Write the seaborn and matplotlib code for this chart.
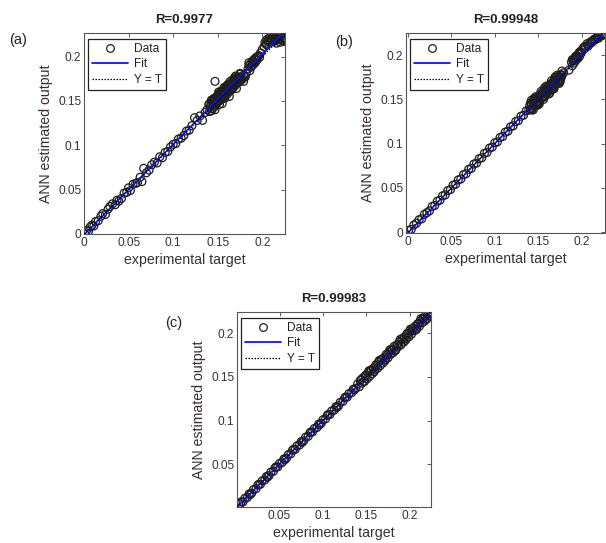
import numpy as np
import pandas as pd
import matplotlib
matplotlib.use("Agg")
import matplotlib.pyplot as plt
import seaborn as sns
from matplotlib.lines import Line2D

# ---------------- data ----------------
titles = ["R=0.9977", "R=0.99948", "R=0.99983"]
panel_labels = ["(a)", "(b)", "(c)"]
x_label = "experimental target"
y_label = "ANN estimated output"
legend_labels = ["Data", "Fit", "Y = T"]

a_target = [
    0.001, 0.003, 0.005, 0.007, 0.009, 0.011, 0.013, 0.016, 0.019, 0.021,
    0.024, 0.027, 0.029, 0.032, 0.035, 0.037, 0.039, 0.042, 0.045, 0.048,
    0.050, 0.052, 0.055, 0.058, 0.060, 0.063, 0.065, 0.067, 0.070, 0.073,
    0.076, 0.079, 0.082, 0.085, 0.088, 0.091, 0.094, 0.097, 0.100, 0.103,
    0.106, 0.109, 0.112, 0.115, 0.118, 0.121, 0.124, 0.127, 0.130, 0.133,
    0.136,
    0.138, 0.140, 0.141, 0.142, 0.143, 0.144, 0.145, 0.145, 0.146, 0.147,
    0.147, 0.148, 0.149, 0.150, 0.150, 0.151, 0.152, 0.153, 0.153, 0.154,
    0.155, 0.156, 0.156, 0.157, 0.158, 0.159, 0.160, 0.160, 0.161, 0.162,
    0.163, 0.163, 0.164, 0.165, 0.166, 0.166, 0.167, 0.168, 0.169, 0.170,
    0.170, 0.171, 0.172, 0.173, 0.174, 0.175, 0.176, 0.178, 0.180, 0.182,
    0.141, 0.143, 0.144, 0.146, 0.148, 0.149, 0.151, 0.152, 0.154, 0.155,
    0.157, 0.158, 0.159, 0.161, 0.162, 0.164, 0.165, 0.167, 0.168, 0.169,
    0.171, 0.172, 0.174, 0.175, 0.177, 0.179, 0.181, 0.150, 0.155, 0.160,
    0.165, 0.170, 0.175, 0.158, 0.163, 0.168,
    0.143, 0.147, 0.151, 0.155, 0.159, 0.163, 0.167, 0.171, 0.175, 0.179,
    0.146, 0.154, 0.162, 0.170,
    0.184, 0.185, 0.186, 0.187, 0.188, 0.189, 0.190, 0.191, 0.192, 0.193,
    0.194, 0.196, 0.185, 0.187, 0.189, 0.191, 0.193, 0.195, 0.197,
    0.198, 0.200, 0.202, 0.204, 0.205, 0.206, 0.208, 0.209, 0.210, 0.212,
    0.213, 0.214, 0.216, 0.217, 0.218, 0.220, 0.222, 0.224, 0.225, 0.226,
    0.203, 0.207, 0.211, 0.215, 0.219, 0.221, 0.223, 0.205, 0.213,
]
a_output = [
    0.000, 0.004, 0.003, 0.008, 0.010, 0.009, 0.014, 0.015, 0.020, 0.023,
    0.022, 0.028, 0.031, 0.034, 0.033, 0.038, 0.037, 0.040, 0.046, 0.047,
    0.052, 0.049, 0.056, 0.057, 0.058, 0.064, 0.059, 0.074, 0.069, 0.072,
    0.078, 0.081, 0.080, 0.087, 0.086, 0.092, 0.093, 0.098, 0.101, 0.102,
    0.107, 0.108, 0.111, 0.116, 0.117, 0.122, 0.131, 0.128, 0.133, 0.128,
    0.137,
    0.140, 0.146, 0.138, 0.144, 0.148, 0.141, 0.150, 0.145, 0.147, 0.172,
    0.152, 0.146, 0.155, 0.149, 0.153, 0.157, 0.150, 0.158, 0.154, 0.152,
    0.160, 0.157, 0.153, 0.162, 0.156, 0.163, 0.160, 0.166, 0.158, 0.164,
    0.167, 0.161, 0.168, 0.163, 0.170, 0.166, 0.164, 0.171, 0.167, 0.173,
    0.168, 0.175, 0.170, 0.176, 0.172, 0.177, 0.174, 0.176, 0.178, 0.181,
    0.147, 0.139, 0.151, 0.143, 0.153, 0.148, 0.160, 0.146, 0.158, 0.154,
    0.165, 0.153, 0.161, 0.168, 0.160, 0.172, 0.162, 0.170, 0.166, 0.176,
    0.171, 0.177, 0.175, 0.180, 0.174, 0.179, 0.177, 0.156, 0.161, 0.162,
    0.168, 0.170, 0.172, 0.159, 0.165, 0.173,
    0.151, 0.140, 0.158, 0.147, 0.166, 0.155, 0.174, 0.164, 0.181, 0.172,
    0.153, 0.161, 0.169, 0.178,
    0.186, 0.190, 0.184, 0.192, 0.189, 0.195, 0.191, 0.197, 0.193, 0.199,
    0.196, 0.201, 0.193, 0.188, 0.193, 0.194, 0.196, 0.200, 0.199,
    0.204, 0.208, 0.211, 0.214, 0.219, 0.217, 0.221, 0.216, 0.219, 0.222,
    0.217, 0.220, 0.215, 0.219, 0.221, 0.216, 0.219, 0.217, 0.220, 0.218,
    0.216, 0.219, 0.220, 0.218, 0.219, 0.222, 0.221, 0.213, 0.221,
]

b_target = [
    0.001, 0.004, 0.007, 0.010, 0.013, 0.016, 0.019, 0.022, 0.025, 0.028,
    0.031, 0.034, 0.037, 0.040, 0.043, 0.046, 0.049, 0.052, 0.055, 0.058,
    0.061, 0.064, 0.067, 0.070, 0.073, 0.076, 0.079, 0.082, 0.085, 0.088,
    0.091, 0.094, 0.097, 0.100, 0.103, 0.106, 0.109, 0.112, 0.115, 0.118,
    0.121, 0.124, 0.127, 0.130, 0.133, 0.136, 0.139,
    0.140, 0.141, 0.142, 0.143, 0.144, 0.145, 0.146, 0.147, 0.148, 0.149,
    0.150, 0.151, 0.152, 0.153, 0.154, 0.155, 0.156, 0.157, 0.158, 0.159,
    0.160, 0.161, 0.162, 0.163, 0.164, 0.165, 0.166, 0.167, 0.168, 0.169,
    0.170, 0.171, 0.172, 0.173, 0.174, 0.175, 0.176, 0.177,
    0.142, 0.145, 0.148, 0.151, 0.154, 0.157, 0.160, 0.163, 0.166, 0.169,
    0.172, 0.175,
    0.141, 0.143, 0.146, 0.149, 0.152, 0.155, 0.158, 0.161, 0.164, 0.167,
    0.170, 0.173, 0.176, 0.150, 0.156, 0.162, 0.168, 0.174,
    0.142, 0.144, 0.147, 0.150, 0.153, 0.156, 0.159, 0.162, 0.165, 0.168,
    0.171, 0.174, 0.177, 0.145, 0.151, 0.157, 0.163, 0.169, 0.175,
    0.179, 0.185,
    0.188, 0.189, 0.190, 0.191, 0.192, 0.193, 0.194, 0.195, 0.196, 0.197,
    0.189, 0.191, 0.193, 0.195, 0.197, 0.199,
    0.198, 0.200, 0.202, 0.204, 0.206, 0.208, 0.210, 0.212, 0.214, 0.216,
    0.218, 0.220, 0.222, 0.224, 0.226,
    0.199, 0.203, 0.207, 0.211, 0.215, 0.219, 0.223,
]
b_output = [
    0.002, 0.003, 0.008, 0.010, 0.014, 0.015, 0.020, 0.022, 0.024, 0.029,
    0.030, 0.035, 0.036, 0.041, 0.042, 0.047, 0.048, 0.053, 0.054, 0.059,
    0.060, 0.065, 0.066, 0.071, 0.072, 0.077, 0.078, 0.083, 0.084, 0.089,
    0.090, 0.095, 0.096, 0.101, 0.102, 0.107, 0.108, 0.113, 0.114, 0.119,
    0.120, 0.125, 0.126, 0.131, 0.132, 0.137, 0.138,
    0.143, 0.139, 0.145, 0.141, 0.147, 0.143, 0.149, 0.146, 0.145, 0.152,
    0.148, 0.154, 0.150, 0.156, 0.152, 0.158, 0.154, 0.160, 0.157, 0.156,
    0.163, 0.159, 0.165, 0.161, 0.167, 0.163, 0.169, 0.166, 0.165, 0.172,
    0.168, 0.174, 0.170, 0.176, 0.172, 0.178, 0.174, 0.177,
    0.138, 0.148, 0.143, 0.147, 0.157, 0.153, 0.157, 0.166, 0.162, 0.166,
    0.175, 0.172,
    0.146, 0.139, 0.150, 0.146, 0.155, 0.152, 0.161, 0.158, 0.166, 0.162,
    0.173, 0.169, 0.178, 0.147, 0.159, 0.160, 0.171, 0.176,
    0.149, 0.138, 0.153, 0.144, 0.159, 0.150, 0.165, 0.156, 0.171, 0.162,
    0.177, 0.168, 0.182, 0.151, 0.145, 0.163, 0.157, 0.175, 0.170,
    0.180, 0.183,
    0.192, 0.188, 0.195, 0.191, 0.197, 0.194, 0.199, 0.196, 0.201, 0.198,
    0.195, 0.194, 0.199, 0.198, 0.203, 0.203,
    0.204, 0.206, 0.209, 0.210, 0.213, 0.212, 0.215, 0.216, 0.218, 0.219,
    0.220, 0.221, 0.222, 0.223, 0.224,
    0.202, 0.207, 0.210, 0.214, 0.217, 0.219, 0.222,
]

c_target = [
    0.003, 0.005, 0.008, 0.010, 0.013, 0.015, 0.018, 0.020, 0.023, 0.025,
    0.028, 0.030, 0.033, 0.035, 0.038, 0.040, 0.043, 0.045, 0.048, 0.050,
    0.053, 0.055, 0.058, 0.060, 0.063, 0.065, 0.068, 0.070, 0.073, 0.075,
    0.078, 0.080, 0.083, 0.085, 0.088, 0.090, 0.093, 0.095, 0.098, 0.100,
    0.103, 0.105, 0.108, 0.110, 0.113, 0.115, 0.118, 0.120, 0.123, 0.125,
    0.128, 0.130, 0.133, 0.135, 0.138,
    0.006, 0.016, 0.026, 0.036, 0.046, 0.056, 0.066, 0.076, 0.086, 0.096,
    0.106, 0.116, 0.126, 0.136,
    0.140, 0.142, 0.143, 0.145, 0.146, 0.148, 0.149, 0.151, 0.152, 0.154,
    0.155, 0.157, 0.158, 0.160, 0.161, 0.163, 0.164, 0.166, 0.167, 0.169,
    0.170, 0.172, 0.173, 0.175, 0.176, 0.178, 0.179, 0.181, 0.182, 0.184,
    0.185, 0.187, 0.188, 0.190, 0.191, 0.193, 0.194, 0.196, 0.197, 0.199,
    0.200, 0.202, 0.203, 0.205, 0.206, 0.208, 0.209, 0.211, 0.212, 0.214,
    0.215, 0.217, 0.218, 0.220, 0.221, 0.223, 0.224, 0.225,
    0.144, 0.150, 0.156, 0.162, 0.168, 0.174, 0.180, 0.186, 0.192, 0.198,
    0.204, 0.210, 0.216, 0.222,
    0.147, 0.153, 0.159, 0.165, 0.171, 0.177, 0.183, 0.189, 0.195, 0.201,
    0.207, 0.213, 0.219,
]
c_output = [
    0.004, 0.005, 0.007, 0.011, 0.012, 0.016, 0.017, 0.021, 0.022, 0.026,
    0.027, 0.031, 0.032, 0.036, 0.037, 0.041, 0.042, 0.046, 0.047, 0.051,
    0.052, 0.056, 0.057, 0.061, 0.062, 0.066, 0.067, 0.071, 0.072, 0.076,
    0.077, 0.081, 0.082, 0.086, 0.087, 0.091, 0.092, 0.096, 0.097, 0.101,
    0.102, 0.106, 0.107, 0.111, 0.112, 0.116, 0.117, 0.121, 0.122, 0.126,
    0.127, 0.131, 0.132, 0.136, 0.137,
    0.007, 0.015, 0.027, 0.035, 0.047, 0.055, 0.067, 0.075, 0.087, 0.095,
    0.107, 0.115, 0.127, 0.135,
    0.142, 0.139, 0.146, 0.143, 0.149, 0.145, 0.152, 0.148, 0.155, 0.151,
    0.158, 0.154, 0.160, 0.158, 0.164, 0.160, 0.167, 0.163, 0.170, 0.166,
    0.172, 0.170, 0.176, 0.172, 0.178, 0.176, 0.182, 0.178, 0.185, 0.181,
    0.187, 0.185, 0.190, 0.187, 0.194, 0.190, 0.196, 0.194, 0.200, 0.196,
    0.203, 0.199, 0.205, 0.203, 0.208, 0.205, 0.211, 0.208, 0.214, 0.212,
    0.217, 0.214, 0.220, 0.217, 0.222, 0.220, 0.225, 0.224,
    0.147, 0.151, 0.158, 0.163, 0.170, 0.175, 0.181, 0.187, 0.193, 0.199,
    0.205, 0.211, 0.217, 0.223,
    0.145, 0.157, 0.156, 0.169, 0.168, 0.181, 0.180, 0.193, 0.192, 0.205,
    0.204, 0.217, 0.216,
]

x_ticks_ab = [0, 0.05, 0.1, 0.15, 0.2]
x_tick_labels_ab = ["0", "0.05", "0.1", "0.15", "0.2"]
x_ticks_c = [0.05, 0.1, 0.15, 0.2]
x_tick_labels_c = ["0.05", "0.1", "0.15", "0.2"]

# ---------------- style ----------------
sns.set_theme(style="white")
plt.rcParams["font.family"] = ["Liberation Sans", "DejaVu Sans"]

fig = plt.figure(figsize=(6.06, 5.43), dpi=100)
W, H = 606, 543

def px_axes(x0, y0, x1, y1):
    return fig.add_axes([x0 / W, 1 - y1 / H, (x1 - x0) / W, (y1 - y0) / H])

axes = [
    px_axes(84, 33, 285, 234),
    px_axes(406, 33, 605, 233),
    px_axes(237, 312, 431, 507),
]
limits = [
    ((0.0, 0.2255), (0.0, 0.2265)),
    ((-0.002, 0.2265), (-0.001, 0.225)),
    ((0.001, 0.2245), (0.001, 0.2245)),
]
datasets = [(a_target, a_output), (b_target, b_output), (c_target, c_output)]
label_pos = [(9, 40), (335, 42), (165, 323)]

tick_col = "#333333"
for i, ax in enumerate(axes):
    t, o = datasets[i]
    df = pd.DataFrame({"target": t, "output": o})
    (xl, yl) = limits[i]
    ax.set_xlim(*xl)
    ax.set_ylim(*yl)
    sns.scatterplot(data=df, x="target", y="output", ax=ax, marker="o",
                    s=32, facecolors="none", edgecolor="#1e1e1e",
                    linewidth=0.9, zorder=2)
    slope, inter = np.polyfit(df["target"], df["output"], 1)
    xs = np.array(xl)
    ax.plot(xs, slope * xs + inter, color="#1010ff", lw=1.1, zorder=3)
    ax.plot(xs, xs, color="black", lw=0.9, ls=(0, (1.2, 1.2)), zorder=4)

    if i < 2:
        ax.set_xticks(x_ticks_ab)
        ax.set_xticklabels(x_tick_labels_ab)
        ax.set_yticks(x_ticks_ab)
        ax.set_yticklabels(x_tick_labels_ab)
    else:
        ax.set_xticks(x_ticks_c)
        ax.set_xticklabels(x_tick_labels_c)
        ax.set_yticks(x_ticks_c)
        ax.set_yticklabels(x_tick_labels_c)

    ax.tick_params(direction="in", top=True, right=True, length=3,
                   width=0.6, color="#444444", labelsize=8.6,
                   labelcolor=tick_col, pad=2)
    for sp in ax.spines.values():
        sp.set_color("#555555")
        sp.set_linewidth(0.8)
    ax.set_xlabel(x_label, fontsize=10.2, color="#333333", labelpad=3)
    ax.set_ylabel(y_label, fontsize=10.2, color="#3a2a38", labelpad=4)
    ax.set_title(titles[i], fontsize=9.5, fontweight="bold", pad=7,
                 color="#222222")

    handles = [
        Line2D([], [], ls="none", marker="o", mfc="none", mec="#222222",
               ms=5.5, mew=0.9),
        Line2D([], [], color="#1010ff", lw=1.3),
        Line2D([], [], color="black", lw=0.9, ls=(0, (1.2, 1.2))),
    ]
    leg = ax.legend(handles, legend_labels, loc="upper left", fontsize=8.6,
                    frameon=True, fancybox=False, edgecolor="#222222",
                    framealpha=1, borderaxespad=0.3, handlelength=3.0,
                    handletextpad=0.5, borderpad=0.35, labelspacing=0.3,
                    bbox_to_anchor=(0.0, 0.99))
    leg.get_frame().set_linewidth(0.9)
    for txt in leg.get_texts():
        txt.set_color("#222222")

    lx, ly = label_pos[i]
    fig.text(lx / W, 1 - ly / H, panel_labels[i], fontsize=10.5,
             va="center", ha="left", color="#222222")

fig.savefig("out.png", dpi=100)
